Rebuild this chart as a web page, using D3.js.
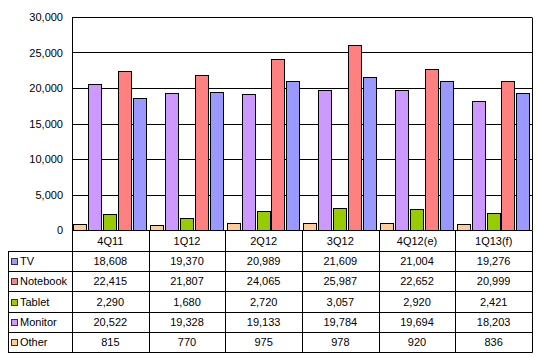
<!DOCTYPE html>
<html>
<head>
<meta charset="utf-8">
<script src="https://cdn.jsdelivr.net/npm/d3@7/dist/d3.min.js"></script>
<style>
  html, body { margin: 0; padding: 0; background: #fff; }
  svg { display: block; }
  text { font-family: "Liberation Sans", Arial, sans-serif; font-size: 11px; fill: #000; }
</style>
</head>
<body>
<svg id="chart" width="538" height="358"></svg>
<script>
const categories = ["4Q11", "1Q12", "2Q12", "3Q12", "4Q12(e)", "1Q13(f)"];
const seriesNames = ["TV", "Notebook", "Tablet", "Monitor", "Other"];
const tvValues = [18608, 19370, 20989, 21609, 21004, 19276];
const notebookValues = [22415, 21807, 24065, 25987, 22652, 20999];
const tabletValues = [2290, 1680, 2720, 3057, 2920, 2421];
const monitorValues = [20522, 19328, 19133, 19784, 19694, 18203];
const otherValues = [815, 770, 975, 978, 920, 836];
const yTicks = [0, 5000, 10000, 15000, 20000, 25000, 30000];

const colors = { TV: "#9999FF", Notebook: "#FF8080", Tablet: "#99CC00", Monitor: "#CC99FF", Other: "#FFCC99" };
const valuesBySeries = { TV: tvValues, Notebook: notebookValues, Tablet: tabletValues, Monitor: monitorValues, Other: otherValues };
const barOrder = ["Other", "Monitor", "Tablet", "Notebook", "TV"];

const svg = d3.select("#chart");
const plotLeft = 72, plotRight = 532, plotTop = 17, zeroY = 230;
const tableLeft = 8, catRowBottom = 251, rowH = 20.2;

const x = d3.scaleBand().domain(categories).range([plotLeft, plotRight]).padding(0);
const xi = d3.scaleBand().domain(barOrder).range([0, x.bandwidth()]).paddingInner(0.04).paddingOuter(0.09);
const y = d3.scaleLinear().domain([0, 30000]).range([zeroY, plotTop]);

// gridlines
svg.append("g").selectAll("line").data(yTicks.filter(d => d > 0)).join("line")
  .attr("x1", plotLeft).attr("x2", plotRight)
  .attr("y1", d => Math.round(y(d)) + 0.5).attr("y2", d => Math.round(y(d)) + 0.5)
  .attr("stroke", "#000").attr("stroke-width", 1);

// y axis labels
const yAxis = d3.axisLeft(y).tickValues(yTicks).tickFormat(d3.format(",")).tickSize(0).tickPadding(9);
const ga = svg.append("g").attr("transform", `translate(${plotLeft},0)`).call(yAxis);
ga.select(".domain").remove();
ga.selectAll("text").style("font-family", '"Liberation Sans", Arial, sans-serif').style("font-size", "11px").attr("fill", "#000");

// bars
const gBars = svg.append("g");
categories.forEach((c, ci) => {
  barOrder.forEach(s => {
    const v = valuesBySeries[s][ci];
    const x0 = x(c) + xi(s);
    gBars.append("rect")
      .attr("x", Math.round(x0) + 0.5)
      .attr("y", Math.round(y(v)) + 0.5)
      .attr("width", Math.round(xi.bandwidth()) - 1)
      .attr("height", Math.round(zeroY) - Math.round(y(v)))
      .attr("fill", colors[s])
      .attr("stroke", "#000").attr("stroke-width", 1);
  });
});

const lines = svg.append("g").attr("stroke", "#000").attr("stroke-width", 1);
const tableBottom = catRowBottom + rowH * seriesNames.length;
// right border of plot area
lines.append("line").attr("x1", plotRight + 0.5).attr("x2", plotRight + 0.5).attr("y1", plotTop + 0.5).attr("y2", zeroY);

// table horizontal lines
lines.append("line").attr("x1", plotLeft).attr("x2", plotRight + 0.5).attr("y1", zeroY + 0.5).attr("y2", zeroY + 0.5);
for (let i = 0; i <= seriesNames.length; i++) {
  const yy = Math.round(catRowBottom + i * rowH) + 0.5;
  lines.append("line").attr("x1", tableLeft).attr("x2", plotRight + 0.5).attr("y1", yy).attr("y2", yy);
}
// vertical lines
lines.append("line").attr("x1", tableLeft + 0.5).attr("x2", tableLeft + 0.5)
  .attr("y1", catRowBottom + 0.5).attr("y2", Math.round(tableBottom) + 0.5);
const colEdges = categories.map(c => x(c)).concat([plotRight]);
colEdges.forEach((cx, i) => {
  const xx = Math.round(cx) + 0.5;
  lines.append("line").attr("x1", xx).attr("x2", xx)
    .attr("y1", i === 0 ? plotTop + 0.5 : zeroY + 0.5)
    .attr("y2", Math.round(tableBottom) + 0.5);
});

// category labels
svg.append("g").selectAll("text").data(categories).join("text")
  .attr("x", d => x(d) + x.bandwidth() / 2)
  .attr("y", (zeroY + catRowBottom) / 2 + 4)
  .attr("text-anchor", "middle").text(d => d);

// rows
const fmt = d3.format(",");
seriesNames.forEach((s, ri) => {
  const cy = catRowBottom + ri * rowH + rowH / 2;
  svg.append("rect")
    .attr("x", 11.5).attr("y", Math.round(cy - 3) + 0.5)
    .attr("width", 6).attr("height", 6)
    .attr("fill", colors[s]).attr("stroke", "#333").attr("stroke-width", 1);
  svg.append("text").attr("x", 20).attr("y", cy + 4).text(s);
  categories.forEach((c, ci) => {
    svg.append("text")
      .attr("x", x(c) + x.bandwidth() / 2)
      .attr("y", cy + 4)
      .attr("text-anchor", "middle")
      .text(fmt(valuesBySeries[s][ci]));
  });
});
</script>
</body>
</html>
